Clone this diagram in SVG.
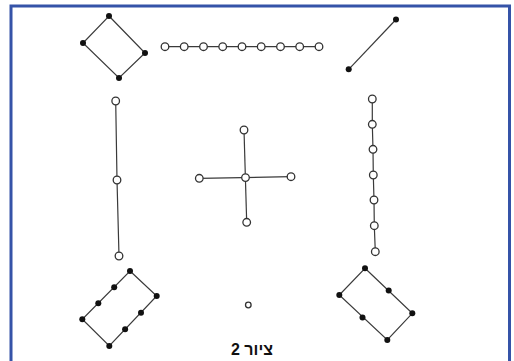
<svg xmlns="http://www.w3.org/2000/svg" width="514" height="361" viewBox="0 0 514 361">
  <style>
    .edge { stroke: #3a3a3a; stroke-width: 1.2; fill: none; }
    .dot { fill: #111; }
    .ring { fill: #fff; stroke: #333; stroke-width: 1.3; }
    .caption { font-family: "Liberation Sans", Arial, sans-serif; font-size: 16px; font-weight: bold; fill: #111; }
  </style>
  <rect width="514" height="361" fill="#fff"/>
  <!-- frame: open at the bottom -->
  <path d="M11,366 V6 H509.5 V366" fill="none" stroke="#3553a8" stroke-width="3"/>

  <g id="connectors">
    <polygon class="edge" points="109,16 145,53 119,78 83,43"/>
    <line class="edge" x1="165" y1="46.7" x2="319" y2="46.7"/>
    <line class="edge" x1="396" y1="19.5" x2="348.7" y2="69.3"/>
    <polyline class="edge" points="115.7,101 117,180 119,256"/>
    <polyline class="edge" points="372.3,99 372.3,124.3 373,149.3 373.3,175 374,200 374.3,225.7 375.3,251.7"/>
    <line class="edge" x1="199.3" y1="178.3" x2="291" y2="176.7"/>
    <line class="edge" x1="244" y1="130" x2="246.7" y2="222.3"/>
    <polygon class="edge" points="130,271 156.7,296 109.3,346 82.3,319.3"/>
    <polygon class="edge" points="365,268.3 412.3,313.3 387.3,340 339.3,295"/>
  </g>

  <g id="node-rhombus-top">
    <circle class="dot" cx="109" cy="16" r="3"/>
    <circle class="dot" cx="145" cy="53" r="3"/>
    <circle class="dot" cx="119" cy="78" r="3"/>
    <circle class="dot" cx="83" cy="43" r="3"/>
  </g>

  <g id="node-chain-top">
    <circle class="ring" cx="165" cy="46.7" r="3.8"/>
    <circle class="ring" cx="184.2" cy="46.7" r="3.8"/>
    <circle class="ring" cx="203.5" cy="46.7" r="3.8"/>
    <circle class="ring" cx="222.7" cy="46.7" r="3.8"/>
    <circle class="ring" cx="242" cy="46.7" r="3.8"/>
    <circle class="ring" cx="261.2" cy="46.7" r="3.8"/>
    <circle class="ring" cx="280.5" cy="46.7" r="3.8"/>
    <circle class="ring" cx="299.7" cy="46.7" r="3.8"/>
    <circle class="ring" cx="319" cy="46.7" r="3.8"/>
  </g>

  <g id="node-segment">
    <circle class="dot" cx="396" cy="19.5" r="3"/>
    <circle class="dot" cx="348.7" cy="69.3" r="3"/>
  </g>

  <g id="node-path-left">
    <circle class="ring" cx="115.7" cy="101" r="3.8"/>
    <circle class="ring" cx="117" cy="180" r="3.8"/>
    <circle class="ring" cx="119" cy="256" r="3.8"/>
  </g>

  <g id="node-chain-right">
    <circle class="ring" cx="372.3" cy="99" r="3.8"/>
    <circle class="ring" cx="372.3" cy="124.3" r="3.8"/>
    <circle class="ring" cx="373" cy="149.3" r="3.8"/>
    <circle class="ring" cx="373.3" cy="175" r="3.8"/>
    <circle class="ring" cx="374" cy="200" r="3.8"/>
    <circle class="ring" cx="374.3" cy="225.7" r="3.8"/>
    <circle class="ring" cx="375.3" cy="251.7" r="3.8"/>
  </g>

  <g id="node-cross">
    <circle class="ring" cx="244" cy="130" r="3.8"/>
    <circle class="ring" cx="199.3" cy="178.3" r="3.8"/>
    <circle class="ring" cx="245.5" cy="177.6" r="3.8"/>
    <circle class="ring" cx="291" cy="176.7" r="3.8"/>
    <circle class="ring" cx="246.7" cy="222.3" r="3.8"/>
  </g>

  <g id="node-rect-left">
    <circle class="dot" cx="130" cy="271" r="3"/>
    <circle class="dot" cx="156.7" cy="296" r="3"/>
    <circle class="dot" cx="109.3" cy="346" r="3"/>
    <circle class="dot" cx="82.3" cy="319.3" r="3"/>
    <circle class="dot" cx="98.3" cy="303.2" r="3"/>
    <circle class="dot" cx="114.2" cy="287.2" r="3"/>
    <circle class="dot" cx="141" cy="312.7" r="3"/>
    <circle class="dot" cx="125.1" cy="329.3" r="3"/>
  </g>

  <g id="node-rect-right">
    <circle class="dot" cx="365" cy="268.3" r="3"/>
    <circle class="dot" cx="412.3" cy="313.3" r="3"/>
    <circle class="dot" cx="387.3" cy="340" r="3"/>
    <circle class="dot" cx="339.3" cy="295" r="3"/>
    <circle class="dot" cx="388.7" cy="290.5" r="3"/>
    <circle class="dot" cx="362.5" cy="317.5" r="3"/>
  </g>

  <g id="node-isolated">
    <circle class="ring" cx="248.3" cy="305" r="2.8" stroke-width="1"/>
  </g>

  <text class="caption" x="252" y="354.5" text-anchor="middle" direction="rtl">ציור 2</text>
</svg>
